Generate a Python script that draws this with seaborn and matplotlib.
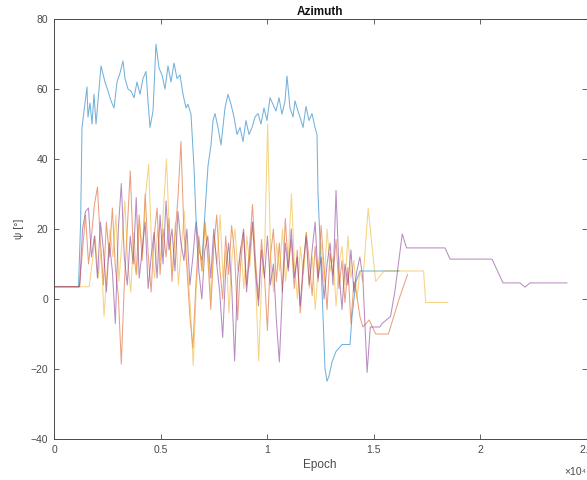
import numpy as np
import pandas as pd
import matplotlib
matplotlib.use("Agg")
import matplotlib.pyplot as plt
import matplotlib.ticker as mticker
import seaborn as sns

# ---------------- data ----------------
blue_epoch = [0, 1150, 1250, 1315, 1549, 1596, 1690, 1784, 1878, 1972, 2066, 2207, 2394, 2535,
              2676, 2817, 2958, 3099, 3240, 3333, 3474, 3615, 3756, 3897, 4038, 4179, 4319, 4413,
              4507, 4648, 4789, 4930, 5071, 5211, 5352, 5493, 5634, 5775, 5916, 6057, 6197, 6291,
              6432, 6573, 6667, 6808, 6949, 7090, 7230, 7371, 7465, 7559, 7700, 7841, 8028, 8169,
              8310, 8451, 8592, 8733, 8874, 9014, 9155, 9296, 9437, 9578, 9718, 9859, 10000, 10141,
              10282, 10423, 10564, 10705, 10846, 10939, 11080, 11221, 11315, 11456, 11597, 11691,
              11831, 11972, 12113, 12254, 12348, 12395, 12536, 12630, 12724, 12818, 12912, 13053,
              13240, 13522, 13897, 13991, 14179, 14367, 16200]
blue_vals = [3.5, 3.5, 22, 49, 60.6, 52, 56, 50, 58.5, 50, 56.6, 66.6, 62, 59.4,
             56.6, 54.6, 62, 64.6, 68, 63, 60, 59.4, 57.5, 62, 58.5, 63, 65, 56.6,
             49, 53.7, 72.8, 66, 64, 60, 66.6, 62, 67.4, 63, 64, 58.5, 54.6, 55.6,
             52.8, 37.5, 23, 14, 11, 25, 38, 44, 51, 53, 49, 44, 54.6, 58.5,
             55.6, 52, 47, 49, 45, 51, 47, 49, 52, 53, 50, 54.6, 51, 57.5,
             55.6, 53.7, 57.5, 52.8, 56.6, 63.7, 54.6, 52, 56.6, 53.7, 51, 49,
             55, 51, 53, 49, 47, 30, 10, -5, -20, -23.5, -22, -18,
             -15, -13, -13, -5, 5, 8, 8]

# orange series: flat start, dense noisy section, tail
orange_head_epoch = [0, 1100]
orange_head_vals = [3.5, 3.5]
orange_dense_start, orange_dense_end = 1200, 14500
orange_dense_vals = [3.5, 14, 24, 10, 18, 27, 32, 16, 4, 22,
                     12, 26, 9, 1, -18.6, 4, 20, 36.6, 14, 7,
                     24, 11, 30, 13, 2, 18, 26, 7, 20, 12,
                     23, 5, 18, 29, 45, 19, 9, -5, -14, 4,
                     18, 8, 22, 12, -3, 15, 24, 9, 0, 18,
                     7, 21, 13, -6, 10, 19, 4, 15, 27, 11,
                     0, 17, 7, -9, 12, 20, 5, 16, 2, 23,
                     9, 17, 3, 14, -4, 8, 19, 11, 1, 15,
                     5, 21, 9, -3, 13, 7, 17, 3, 11, -1,
                     9, -7, 5, 1, -5, -8]
orange_tail_epoch = [14800, 15100, 15700, 16200, 16600]
orange_tail_vals = [-6, -10, -10, 0, 7]

# yellow series
yellow_head_epoch = [0, 1600]
yellow_head_vals = [3.5, 3.5]
yellow_dense_start, yellow_dense_end = 1650, 14500
yellow_dense_vals = [3.5, 10, 18, 6, 14, -5, 8, 20, 12, 24,
                     5, 16, 28, 10, 2, 19, 7, 22, 13, 30,
                     38.5, 15, 6, 20, 11, 26, 40, 18, 8, 22,
                     4, 15, 25, 9, -2, -19, 3, 16, 8, 22,
                     12, 0, 18, 10, 24, 6, 14, -4, 12, 20,
                     8, 15, 3, 18, 9, 22, 4, -17.7, 6, 14,
                     50, 12, 2, 16, 8, 20, 5, 13, 30, 10,
                     0, 15, 7, 19, 3, 12, -3, 9, 16, 5,
                     20, 8, 12, -2, 10, 15, 4, 18, 6, 11,
                     0, 8, 5]
yellow_tail_epoch = [14750, 15100, 15500, 17350, 17450, 18500]
yellow_tail_vals = [26, 5, 8, 8, -1, -1]

# purple series
purple_head_epoch = [0, 1100]
purple_head_vals = [3.5, 3.5]
purple_dense_start, purple_dense_end = 1200, 14500
purple_dense_vals = [3.5, 20, 25, 26, 12, 18, 6, 22, 14, 2,
                     16, 8, -7, 20, 33, 12, 4, 18, 10, 29,
                     6, 14, 22, 3, 12, 19, 6, 24, 10, 28,
                     14, 20, 8, 25, 16, 11, 20, 4, 12, 22,
                     8, 0, 14, 18, 6, 20, 10, 2, -11, 8,
                     16, 4, -17.7, 6, 14, 20, 2, 12, 22, 8,
                     -2, 14, 6, 18, 4, 10, -6, -18, 2, 16,
                     8, 20, 6, 12, -2, 10, 18, 4, 14, 22,
                     6, 12, 0, 10, 16, 4, 31, 8, -3, 10,
                     4, 14, 2, 8, 12, 6]
purple_tail_epoch = [14700, 14850, 15300, 15400, 15800, 16000, 16350, 16550, 18357, 18592,
                     20564, 21080, 21879, 22113, 22348, 24085]
purple_tail_vals = [-21, -8, -8, -7, -5, 2, 18.6, 14.6, 14.6, 11.4,
                    11.4, 4.6, 4.6, 3.4, 4.6, 4.6]

series_names = ["s1", "s2", "s3", "s4"]
series_colors = ["#0072BD", "#D95319", "#EDB120", "#7E2F8E"]

x_ticks = [0, 5000, 10000, 15000, 20000, 25000]
y_ticks = [-40, -20, 0, 20, 40, 60, 80]

# ---------------- build long-form table ----------------
def assemble(head_e, head_v, d0, d1, dvals, tail_e, tail_v):
    e = list(head_e) + list(np.linspace(d0, d1, len(dvals))) + list(tail_e)
    v = list(head_v) + list(dvals) + list(tail_v)
    return e, v

o_e, o_v = assemble(orange_head_epoch, orange_head_vals, orange_dense_start, orange_dense_end,
                    orange_dense_vals, orange_tail_epoch, orange_tail_vals)
y_e, y_v = assemble(yellow_head_epoch, yellow_head_vals, yellow_dense_start, yellow_dense_end,
                    yellow_dense_vals, yellow_tail_epoch, yellow_tail_vals)
p_e, p_v = assemble(purple_head_epoch, purple_head_vals, purple_dense_start, purple_dense_end,
                    purple_dense_vals, purple_tail_epoch, purple_tail_vals)

frames = []
for name, e, v in zip(series_names, [blue_epoch, o_e, y_e, p_e], [blue_vals, o_v, y_v, p_v]):
    frames.append(pd.DataFrame({"epoch": e, "value": v, "series": name}))
df = pd.concat(frames, ignore_index=True)

# ---------------- plot ----------------
sns.set_theme(style="white")
plt.rcParams["font.family"] = ["Liberation Sans", "DejaVu Sans"]

fig = plt.figure(figsize=(5.87, 4.8), dpi=100)
ax = fig.add_axes([54 / 587, 41 / 480, (586.5 - 54) / 587, (439 - 19) / 480])

sns.lineplot(data=df, x="epoch", y="value", hue="series", hue_order=series_names,
             palette=series_colors, estimator=None, sort=False, legend=False,
             linewidth=0.75, alpha=0.55, ax=ax)

ax.set_xlim(0, 25000)
ax.set_ylim(-40, 80)
ax.set_xticks(x_ticks)
ax.set_yticks(y_ticks)
ax.xaxis.set_major_formatter(mticker.FuncFormatter(lambda v, p: f"{v / 1e4:g}"))

axis_col = "#4a4a4a"
for s in ax.spines.values():
    s.set_visible(True)
    s.set_color(axis_col)
    s.set_linewidth(0.7)
ax.tick_params(axis="both", which="both", direction="in", length=3.5, width=0.6,
               color=axis_col, labelcolor="#4a4a4a", labelsize=7.5,
               top=True, right=True, bottom=True, left=True, pad=4)

ax.set_xlabel("Epoch", fontsize=8.5, color="#4a4a4a", labelpad=3)
ax.set_ylabel("ψ [°]", fontsize=7.5, color="#4a4a4a", labelpad=5)
ax.set_title("Azimuth", fontsize=8.5, fontweight="bold", color="#111111", pad=3)
fig.text(0.999, 0.016, "×10⁴", ha="right", va="center", fontsize=7.5, color="#4a4a4a")

fig.savefig("out.png", dpi=100)
